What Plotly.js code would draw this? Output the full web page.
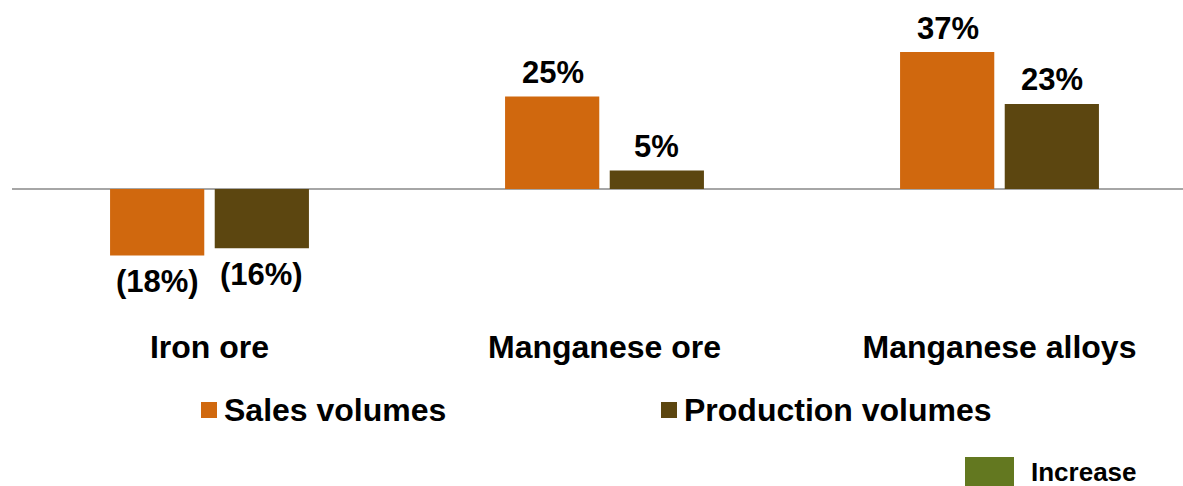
<!DOCTYPE html>
<html>
<head>
<meta charset="utf-8">
<script src="https://cdn.plot.ly/plotly-3.0.1.min.js"></script>
<style>html,body{margin:0;padding:0;background:#fff;}#chart{width:1183px;height:486px;}</style>
</head>
<body>
<div id="chart"></div>
<script>
// ---- data ----
const categories = ["Iron ore", "Manganese ore", "Manganese alloys"];
const seriesNames = ["Sales volumes", "Production volumes"];
const salesValues = [-18, 25, 37];
const productionValues = [-16, 5, 23];
const extraLegendName = "Increase";

// ---- styling ----
const W = 1183, H = 486;
const ML = 12, MR = 0, MT = 0, MB = 165;
const plotW = W - ML - MR, plotH = H - MT - MB;
const colors = ["#D0680E", "#5C4610"];
const font = "Liberation Sans, Arial, sans-serif";
function px(x) { return (x - ML) / plotW; }
function py(y) { return (plotH + MT - y) / plotH; }
function fmt(v) { return v < 0 ? "(" + Math.abs(v) + "%)" : v + "%"; }

const valuesList = [salesValues, productionValues];
const traces = valuesList.map((vals, i) => ({
  type: "bar",
  name: seriesNames[i],
  x: categories,
  y: vals,
  marker: {color: colors[i], line: {width: 0}},
  showlegend: false,
  hoverinfo: "none"
}));

const zeroPx = 189, pxPerUnit = 3.7;
const yTop = (zeroPx - MT) / pxPerUnit;
const yBot = -(plotH + MT - zeroPx) / pxPerUnit;

const shapes = [];
const annotations = [];

// value labels from the data
const barOffsetPx = [-52, 52];
valuesList.forEach((vals, i) => {
  vals.forEach((v, j) => {
    annotations.push({xref: "x", yref: "y", x: categories[j], y: v,
      xshift: barOffsetPx[i], yshift: v < 0 ? -26 : 24,
      xanchor: "center", yanchor: "middle", showarrow: false,
      text: "<b>" + fmt(v) + "</b>", font: {family: font, size: 31, color: "#000"}});
  });
});

const legendSquares = [201, 661];
seriesNames.forEach((n, i) => {
  shapes.push({type: "rect", xref: "paper", yref: "paper",
    x0: px(legendSquares[i]), x1: px(legendSquares[i] + 16),
    y0: py(418), y1: py(402), fillcolor: colors[i], line: {width: 0}});
  annotations.push({xref: "paper", yref: "paper", x: px(legendSquares[i] + 21), y: py(410),
    xanchor: "left", yanchor: "middle", showarrow: false, text: "<b>" + n + "</b>",
    font: {family: font, size: 32, color: "#000"}});
});
shapes.push({type: "rect", xref: "paper", yref: "paper",
  x0: px(965), x1: px(1014), y0: py(490), y1: py(457), fillcolor: "#637820", line: {width: 0}});
annotations.push({xref: "paper", yref: "paper", x: px(1029), y: py(472),
  xanchor: "left", yanchor: "middle", showarrow: false, text: "<b>" + extraLegendName + "</b>",
  font: {family: font, size: 26, color: "#000"}});

const layout = {
  width: W, height: H,
  margin: {l: ML, r: MR, t: MT, b: MB, pad: 0},
  paper_bgcolor: "#fff", plot_bgcolor: "#fff",
  barmode: "group", bargap: 0.47, bargroupgap: 0.1,
  xaxis: {type: "category", range: [-0.5, -0.5 + plotW / 395], showgrid: false, zeroline: false,
    showline: false, ticks: "", ticklabelstandoff: 4,
    tickfont: {family: font, size: 32, color: "#000", weight: "bold"}},
  yaxis: {range: [yBot, yTop], showgrid: false, showticklabels: false, zeroline: true,
    zerolinecolor: "#A6A6A6", zerolinewidth: 2, showline: false},
  shapes: shapes,
  annotations: annotations,
  showlegend: false
};

Plotly.newPlot("chart", traces, layout, {displayModeBar: false, staticPlot: true});
</script>
</body>
</html>
